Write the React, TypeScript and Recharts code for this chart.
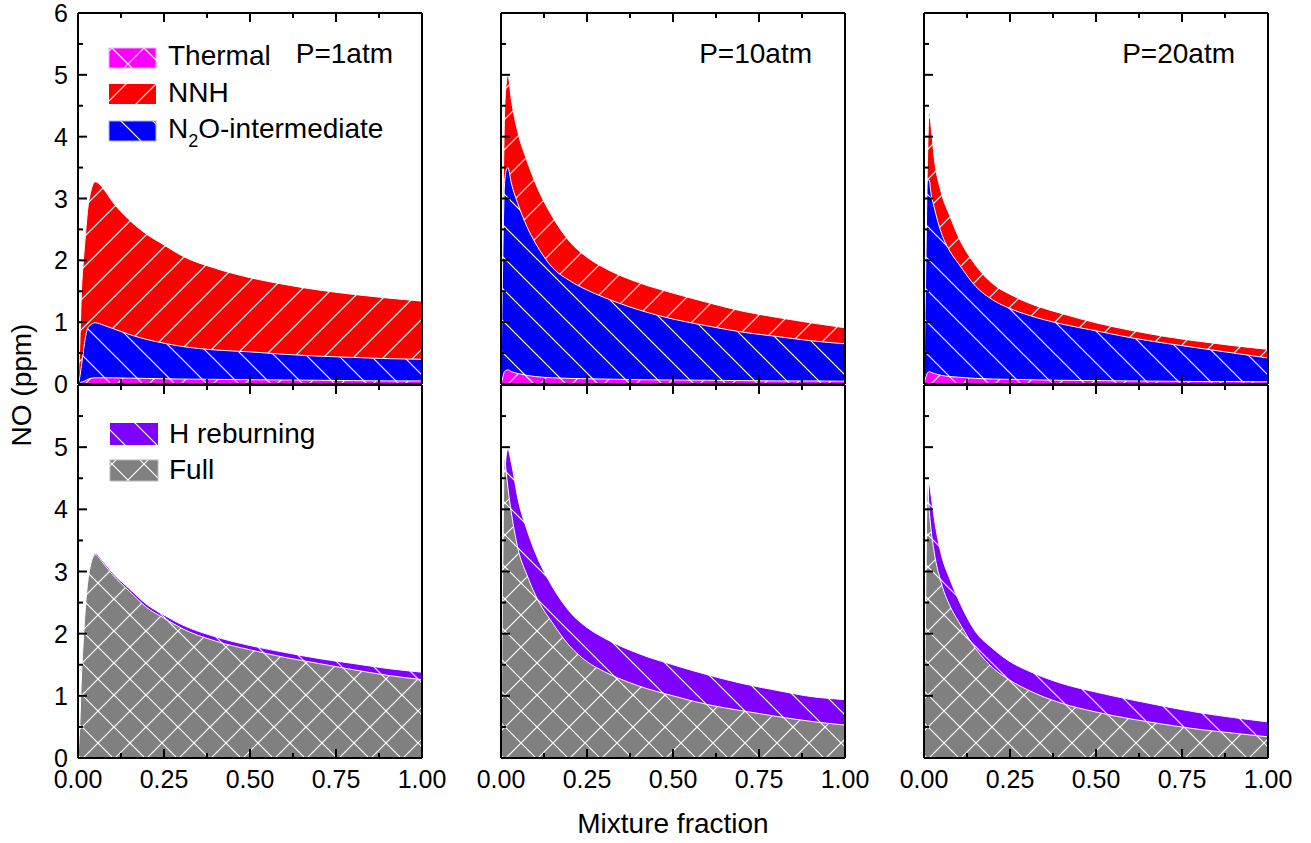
import React from 'react';
import { AreaChart, Area, XAxis, YAxis } from 'recharts';

// Mixture fraction grid
const xs = [0, 0.005, 0.01, 0.015, 0.02, 0.03, 0.05, 0.075, 0.1, 0.15, 0.2, 0.25, 0.3, 0.4, 0.5, 0.6, 0.7, 0.8, 0.9, 1.0];

// Top row: upper edge of each band, NO (ppm)
const nnh1 = [0, 0.6, 1.5, 1.95, 2.3, 2.9, 3.27, 3.15, 2.95, 2.65, 2.42, 2.25, 2.08, 1.87, 1.72, 1.61, 1.52, 1.45, 1.39, 1.34];
const n2o1 = [0, 0.1, 0.3, 0.5, 0.7, 0.92, 0.99, 0.95, 0.9, 0.8, 0.72, 0.66, 0.61, 0.55, 0.52, 0.48, 0.45, 0.43, 0.41, 0.4];
const thermal1 = [0, 0.01, 0.03, 0.04, 0.05, 0.08, 0.1, 0.1, 0.1, 0.095, 0.09, 0.085, 0.08, 0.075, 0.07, 0.065, 0.06, 0.055, 0.05, 0.05];

const nnh10 = [0, 2.5, 4.3, 4.85, 5.0, 4.6, 4.05, 3.62, 3.25, 2.7, 2.3, 2.05, 1.88, 1.64, 1.47, 1.32, 1.18, 1.08, 0.99, 0.91];
const n2o10 = [0, 2.0, 3.2, 3.45, 3.5, 3.25, 2.9, 2.55, 2.28, 1.88, 1.67, 1.52, 1.4, 1.2, 1.05, 0.94, 0.84, 0.77, 0.7, 0.65];
const thermal10 = [0, 0.1, 0.2, 0.22, 0.23, 0.2, 0.17, 0.14, 0.12, 0.1, 0.09, 0.085, 0.08, 0.07, 0.065, 0.06, 0.055, 0.05, 0.05, 0.045];

const nnh20 = [0, 2.0, 3.6, 4.4, 4.2, 3.65, 3.1, 2.72, 2.38, 1.92, 1.62, 1.45, 1.32, 1.14, 0.99, 0.87, 0.77, 0.69, 0.62, 0.56];
const n2o20 = [0, 1.8, 3.3, 3.3, 3.1, 2.85, 2.45, 2.15, 1.95, 1.58, 1.36, 1.22, 1.12, 0.97, 0.86, 0.75, 0.66, 0.58, 0.5, 0.42];
const thermal20 = [0, 0.1, 0.18, 0.2, 0.19, 0.17, 0.14, 0.12, 0.11, 0.09, 0.08, 0.075, 0.07, 0.06, 0.055, 0.05, 0.045, 0.04, 0.04, 0.035];

// Bottom row
const hreb1 = [0, 0.5, 1.3, 1.85, 2.3, 2.9, 3.29, 3.15, 2.98, 2.72, 2.47, 2.3, 2.15, 1.95, 1.81, 1.7, 1.6, 1.52, 1.44, 1.38];
const full1 = [0, 0.5, 1.3, 1.85, 2.3, 2.9, 3.27, 3.12, 2.95, 2.68, 2.42, 2.25, 2.09, 1.88, 1.74, 1.62, 1.52, 1.42, 1.33, 1.26];

const hreb10 = [0, 2.5, 4.3, 4.85, 4.97, 4.75, 4.15, 3.68, 3.3, 2.75, 2.35, 2.1, 1.93, 1.68, 1.5, 1.34, 1.2, 1.09, 0.99, 0.94];
const full10 = [0, 3.0, 4.85, 4.6, 4.35, 3.95, 3.35, 2.95, 2.62, 2.17, 1.8, 1.55, 1.39, 1.16, 1.0, 0.86, 0.76, 0.67, 0.59, 0.53];

const hreb20 = [0, 2.0, 3.7, 4.43, 4.25, 3.85, 3.28, 2.88, 2.55, 2.03, 1.76, 1.55, 1.41, 1.2, 1.06, 0.94, 0.83, 0.73, 0.65, 0.58];
const full20 = [0, 2.6, 4.4, 4.0, 3.7, 3.3, 2.82, 2.45, 2.2, 1.76, 1.45, 1.25, 1.1, 0.88, 0.74, 0.63, 0.54, 0.46, 0.4, 0.34];

const xTicks = [0, 0.125, 0.25, 0.375, 0.5, 0.625, 0.75, 0.875, 1];
const yTicks = [0, 0.5, 1, 1.5, 2, 2.5, 3, 3.5, 4, 4.5, 5, 5.5, 6];
const pressureLabels = ['P=1atm', 'P=10atm', 'P=20atm'];

const FONT = '"Liberation Sans", Arial, Helvetica, sans-serif';
const C_THERMAL = '#FF00FF';
const C_NNH = '#FF0000';
const C_N2O = '#0000FF';
const C_HREB = '#8000FF';
const C_FULL = '#808080';

const colLefts = [78, 501, 924];
const PLOT_W = 344;
const rows = [
  { top: 13, h: 371 },
  { top: 385, h: 373 },
];
const PAD_L = 60;
const PAD_R = 10;
const PAD_T = 10;
const PAD_B = 40;

type Kind = 'fwd' | 'back' | 'cross';

function hatchPath(kind: Kind, s: number) {
  const fwd = `M-2,2 L2,-2 M0,${s} L${s},0 M${s - 2},${s + 2} L${s + 2},${s - 2}`;
  const back = `M-2,${s - 2} L2,${s + 2} M0,0 L${s},${s} M${s - 2},-2 L${s + 2},2`;
  if (kind === 'fwd') return fwd;
  if (kind === 'back') return back;
  return fwd + ' ' + back;
}

function Hatch({ id, color, kind, size }: { id: string; color: string; kind: Kind; size: number }) {
  return (
    <pattern id={id} patternUnits="userSpaceOnUse" width={size} height={size}>
      <rect x={0} y={0} width={size} height={size} fill={color} />
      <path d={hatchPath(kind, size)} stroke="#fff" strokeWidth={1.2} fill="none" />
    </pattern>
  );
}

const isMajorX = (v: number) => Math.abs(v * 4 - Math.round(v * 4)) < 1e-6;
const isMajorY = (v: number) => Math.abs(v - Math.round(v)) < 1e-6;

const makeXTick = (side: 'bottom' | 'top', showLabel: boolean) => (props: any) => {
  const { x, y, payload } = props;
  const v = payload.value as number;
  const major = isMajorX(v);
  const len = major ? 9 : 5;
  const dir = side === 'bottom' ? -1 : 1;
  return (
    <g>
      <line x1={x} y1={y} x2={x} y2={y + dir * len} stroke="#000" strokeWidth={2} />
      {showLabel && major && side === 'bottom' ? (
        <text x={x} y={y + 30} textAnchor="middle" fontSize={25} fontFamily={FONT} fill="#000">
          {v.toFixed(2)}
        </text>
      ) : null}
    </g>
  );
};

const makeYTick = (side: 'left' | 'right', showLabel: boolean, maxLabel: number) => (props: any) => {
  const { x, y, payload } = props;
  const v = payload.value as number;
  const major = isMajorY(v);
  const len = major ? 9 : 5;
  const dir = side === 'left' ? 1 : -1;
  return (
    <g>
      <line x1={x} y1={y} x2={x + dir * len} y2={y} stroke="#000" strokeWidth={2} />
      {showLabel && major && side === 'left' && v <= maxLabel ? (
        <text x={x - 10} y={y + 9} textAnchor="end" fontSize={25} fontFamily={FONT} fill="#000">
          {String(Math.round(v))}
        </text>
      ) : null}
    </g>
  );
};

type SeriesDef = { key: string; values: number[]; color: string; kind: Kind; size: number };

function Panel({ col, row, series }: { col: number; row: number; series: SeriesDef[] }) {
  const { top, h } = rows[row];
  const left = colLefts[col];
  const data = xs.map((x, i) => {
    const r: any = { x };
    series.forEach((s) => {
      r[s.key] = s.values[i];
    });
    return r;
  });
  const pfx = `p${row}${col}`;
  const axisLine = { stroke: '#000', strokeWidth: 2 };
  return (
    <div style={{ position: 'absolute', left: left - PAD_L, top: top - PAD_T }}>
      <AreaChart
        width={PAD_L + PLOT_W + PAD_R}
        height={PAD_T + h + PAD_B}
        data={data}
        margin={{ top: 0, right: 0, bottom: 0, left: 0 }}
      >
        <defs>
          {series.map((s) => (
            <Hatch key={s.key} id={`${pfx}-${s.key}`} color={s.color} kind={s.kind} size={s.size} />
          ))}
        </defs>
        <XAxis
          dataKey="x"
          type="number"
          domain={[0, 1]}
          ticks={xTicks}
          interval={0}
          height={PAD_B}
          tickSize={0}
          tickMargin={0}
          tickLine={false}
          axisLine={axisLine}
          tick={makeXTick('bottom', row === 1)}
        />
        <XAxis
          xAxisId="top"
          orientation="top"
          dataKey="x"
          type="number"
          domain={[0, 1]}
          ticks={xTicks}
          interval={0}
          height={PAD_T}
          tickSize={0}
          tickMargin={0}
          tickLine={false}
          axisLine={axisLine}
          tick={makeXTick('top', false)}
        />
        <YAxis
          type="number"
          domain={[0, 6]}
          ticks={yTicks}
          interval={0}
          width={PAD_L}
          tickSize={0}
          tickMargin={0}
          tickLine={false}
          axisLine={axisLine}
          tick={makeYTick('left', col === 0, row === 0 ? 6 : 5)}
        />
        <YAxis
          yAxisId="r"
          orientation="right"
          type="number"
          domain={[0, 6]}
          ticks={yTicks}
          interval={0}
          width={PAD_R}
          tickSize={0}
          tickMargin={0}
          tickLine={false}
          axisLine={axisLine}
          tick={makeYTick('right', false, 0)}
        />
        {series.map((s) => (
          <Area
            key={s.key}
            dataKey={s.key}
            type="monotone"
            fill={`url(#${pfx}-${s.key})`}
            fillOpacity={1}
            stroke="#fff"
            strokeWidth={1}
            dot={false}
            activeDot={false}
            isAnimationActive={false}
          />
        ))}
      </AreaChart>
    </div>
  );
}

const topSeries = (nnh: number[], n2o: number[], th: number[]): SeriesDef[] => [
  { key: 'nnh', values: nnh, color: C_NNH, kind: 'fwd', size: 30 },
  { key: 'n2o', values: n2o, color: C_N2O, kind: 'back', size: 32 },
  { key: 'thermal', values: th, color: C_THERMAL, kind: 'cross', size: 32 },
];
const bottomSeries = (hreb: number[], full: number[]): SeriesDef[] => [
  { key: 'hreb', values: hreb, color: C_HREB, kind: 'back', size: 32 },
  { key: 'full', values: full, color: C_FULL, kind: 'cross', size: 32 },
];

function LegendPatch({ x, y, w, h, id, border }: { x: number; y: number; w: number; h: number; id: string; border?: string }) {
  return <rect x={x} y={y} width={w} height={h} fill={`url(#${id})`} stroke={border || 'none'} strokeWidth={1} />;
}

export default function App() {
  const textStyle = { fontFamily: FONT, fontSize: 28, fill: '#000' } as any;
  return (
    <div style={{ position: 'absolute', left: 0, top: 0, width: 1311, height: 843, background: '#fff', overflow: 'hidden' }}>
      <style>{`.recharts-surface { overflow: visible; } .recharts-wrapper { overflow: visible; }`}</style>
      <Panel col={0} row={0} series={topSeries(nnh1, n2o1, thermal1)} />
      <Panel col={1} row={0} series={topSeries(nnh10, n2o10, thermal10)} />
      <Panel col={2} row={0} series={topSeries(nnh20, n2o20, thermal20)} />
      <Panel col={0} row={1} series={bottomSeries(hreb1, full1)} />
      <Panel col={1} row={1} series={bottomSeries(hreb10, full10)} />
      <Panel col={2} row={1} series={bottomSeries(hreb20, full20)} />
      <svg width={1311} height={843} style={{ position: 'absolute', left: 0, top: 0, pointerEvents: 'none' }}>
        <defs>
          <Hatch id="lg-thermal" color={C_THERMAL} kind="cross" size={32} />
          <Hatch id="lg-nnh" color={C_NNH} kind="fwd" size={30} />
          <Hatch id="lg-n2o" color={C_N2O} kind="back" size={32} />
          <Hatch id="lg-hreb" color={C_HREB} kind="back" size={32} />
          <Hatch id="lg-full" color={C_FULL} kind="cross" size={32} />
        </defs>
        <LegendPatch x={109} y={48} w={47} h={20} id="lg-thermal" border="#f8b0f8" />
        <LegendPatch x={109} y={84} w={47} h={20} id="lg-nnh" />
        <LegendPatch x={109} y={121} w={47} h={20} id="lg-n2o" border="#b0b0ff" />
        <text x={168} y={65} {...textStyle}>Thermal</text>
        <text x={168} y={102} {...textStyle}>NNH</text>
        <text x={168} y={138} {...textStyle}>
          <tspan>N</tspan>
          <tspan fontSize={18} dy={9}>2</tspan>
          <tspan dy={-9}>O-intermediate</tspan>
        </text>
        {pressureLabels.map((p, i) => (
          <text key={p} x={[393, 812, 1235][i]} y={63} textAnchor="end" {...textStyle}>
            {p}
          </text>
        ))}
        <LegendPatch x={110} y={423} w={48} h={22} id="lg-hreb" />
        <LegendPatch x={110} y={460} w={48} h={21} id="lg-full" border="#b8b8b8" />
        <text x={169} y={443} {...textStyle}>H reburning</text>
        <text x={169} y={479} {...textStyle}>Full</text>
        <text x={673} y={833} textAnchor="middle" {...textStyle}>Mixture fraction</text>
        <text x={0} y={0} textAnchor="middle" transform="translate(31,385) rotate(-90)" {...textStyle}>NO (ppm)</text>
      </svg>
    </div>
  );
}
